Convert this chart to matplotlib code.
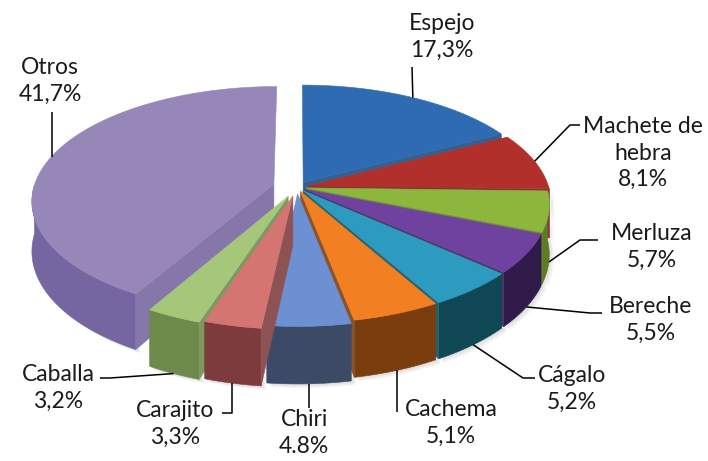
import numpy as np
import matplotlib.pyplot as plt
from matplotlib.patches import Polygon

# ---- data
names = ['Espejo', 'Machete de\nhebra', 'Merluza', 'Bereche', 'Cágalo',
         'Cachema', 'Chiri', 'Carajito', 'Caballa', 'Otros']
values = [17.3, 8.1, 5.7, 5.5, 5.2, 5.1, 4.8, 3.3, 3.2, 41.7]
pct_labels = ['17,3%', '8,1%', '5,7%', '5,5%', '5,2%', '5,1%', '4.8%', '3,3%', '3,2%', '41,7%']

# ---- style
top_colors = ['#2f6bb2', '#b2302c', '#8db73c', '#7042a0', '#2c9bbf',
              '#f28022', '#6c90d2', '#d57572', '#a5c77a', '#9787b8']
side_colors = ['#1c4a80', '#7a1b19', '#5e7c24', '#2f1a4a', '#0f4854',
               '#7a3d0e', '#3c4a66', '#7d3b3d', '#6e8a4a', '#7565a0']
explode = [0.05, 0.05, 0.04, 0.04, 0.04, 0.04, 0.06, 0.08, 0.09, 0.10]

# projection of the tilted disk (unit radius) into figure pixels
CX, CY = 297, 187
A, B, H = 240, 112, 49
P = 0.14


def proj(X, Y, Z):
    s = 1.0 / (1.0 + P * np.asarray(Y))
    return CX + A * np.asarray(X) * s, CY - (B * np.asarray(Y) + H * Z) * s


def poly(ax, xs, ys, color, z, alpha=1.0, edge=True):
    pts = np.column_stack([xs, ys])
    ax.add_patch(Polygon(pts, closed=True, facecolor=color,
                         edgecolor=color if edge else 'none',
                         linewidth=0.4, zorder=z, alpha=alpha))


def lighten(c, f):
    rgb = np.array(plt.matplotlib.colors.to_rgb(c))
    return tuple(rgb + (1 - rgb) * f)


fig = plt.figure(figsize=(7.08, 4.61), dpi=100)
ax = fig.add_axes([0, 0, 1, 1])
ax.set_xlim(0, 708)
ax.set_ylim(461, 0)
ax.axis('off')

fr = np.array(values) / sum(values)
t2s = 90 - 360 * (np.cumsum(fr) - fr)
t1s = t2s - 360 * fr
mids = np.radians((t1s + t2s) / 2)

# back to front
depth = [0.5 * np.sin(m) + explode[i] * np.sin(m) for i, m in enumerate(mids)]
order = np.argsort(depth)[::-1]

z = 1
for i in order:
    t1, t2 = np.radians(t1s[i]), np.radians(t2s[i])
    ex, ey = explode[i] * np.cos(mids[i]), explode[i] * np.sin(mids[i])
    n = max(10, int(abs(t2s[i] - t1s[i]) * 2))
    ts = np.linspace(t1, t2, n)
    X, Y = ex + np.cos(ts), ey + np.sin(ts)

    # curved outer wall, front part only
    idx = np.where(np.sin(ts) < 0)[0]
    if len(idx):
        runs = np.split(idx, np.where(np.diff(idx) != 1)[0] + 1)
        for r in runs:
            if len(r) < 2:
                continue
            xt, yt = proj(X[r], Y[r], 0)
            xb, yb = proj(X[r], Y[r], -1)
            px, py = np.r_[xt, xb[::-1]], np.r_[yt, yb[::-1]]
            # soft shadow
            for k in range(1, 5):
                poly(ax, px + 1.2 * k, py + 1.0 * k, '#808080', 0.2,
                     alpha=0.07, edge=False)
            poly(ax, px, py, side_colors[i], z)
    # radial walls
    for t, ok in [(t1, np.cos(t1) > 0), (t2, np.cos(t2) < 0)]:
        if ok:
            xs = np.array([ex, ex + np.cos(t), ex + np.cos(t), ex])
            ys = np.array([ey, ey + np.sin(t), ey + np.sin(t), ey])
            zs = np.array([0, 0, -1, -1])
            px, py = proj(xs, ys, zs)
            poly(ax, px, py, lighten(side_colors[i], 0.12), z)
    # top face
    xt, yt = proj(np.r_[ex, X], np.r_[ey, Y], 0)
    poly(ax, xt, yt, top_colors[i], z + 0.5)
    z += 1

# ---- labels
label_pos = [(442, 37), (643, 153), (652, 247), (651, 320), (572, 389),
             (451, 423), (304, 433), (175, 424), (58, 388), (50, 81)]
# leader: anchor on top edge or wall bottom, then path points (None = anchor x)
leaders = [('top', [(412, 67)]),
           ('top', [(570, 125), (580, 125)]),
           ('bot', [(580, 240), (598, 240)]),
           ('bot', [(590, 313), (602, 313)]),
           ('bot', [(523, 378), (535, 378)]),
           ('bot', [(None, 412)]),
           ('bot', [(None, 408)]),
           ('bot', [(None, 413), (222, 413)]),
           ('bot', [(110, 378), (100, 378)]),
           ('top', [(None, 112)])]

for i in range(len(values)):
    lx, ly = label_pos[i]
    ax.text(lx, ly, names[i] + '\n' + pct_labels[i], ha='center', va='center',
            fontsize=16.5, family=['Lato', 'DejaVu Sans'], linespacing=1.3,
            color='#1a1a1a', zorder=50)
    kind, path = leaders[i]
    ex, ey = explode[i] * np.cos(mids[i]), explode[i] * np.sin(mids[i])
    ax_, ay_ = proj(ex + np.cos(mids[i]), ey + np.sin(mids[i]), 0 if kind == 'top' else -1)
    xs, ys = [float(ax_)], [float(ay_)]
    for px, py in path:
        xs.append(float(ax_) if px is None else px)
        ys.append(py)
    ax.plot(xs, ys, color='black', lw=1.1, zorder=40, solid_capstyle='butt')

fig.savefig('out.png', dpi=100, facecolor='white')
